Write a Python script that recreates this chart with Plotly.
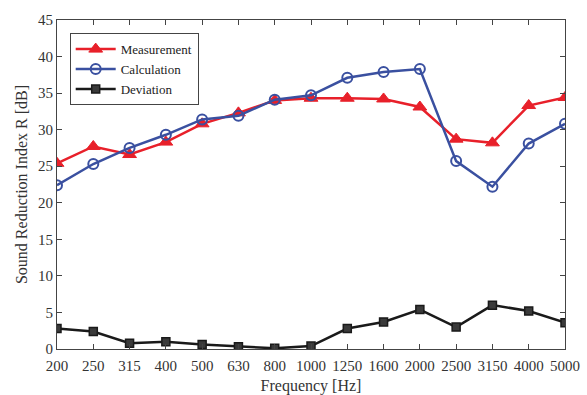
import plotly.graph_objects as go

freqs = ["200", "250", "315", "400", "500", "630", "800", "1000", "1250", "1600", "2000", "2500", "3150", "4000", "5000"]
measurement = [25.4, 27.7, 26.6, 28.3, 30.8, 32.3, 34.0, 34.3, 34.3, 34.2, 33.1, 28.7, 28.2, 33.3, 34.4]
calculation = [22.4, 25.3, 27.5, 29.3, 31.4, 31.9, 34.1, 34.7, 37.1, 37.9, 38.3, 25.7, 22.2, 28.1, 30.8]
deviation = [2.8, 2.4, 0.8, 1.0, 0.6, 0.3, 0.1, 0.4, 2.8, 3.7, 5.4, 3.0, 6.0, 5.2, 3.6]

fig = go.Figure()
fig.add_trace(go.Scatter(x=freqs, y=measurement, name="Measurement", mode="lines+markers",
                         line=dict(color="#e8202a", width=2.5),
                         marker=dict(symbol="triangle-up", size=12, color="#e8202a",
                                     line=dict(color="#e8202a", width=1))))
fig.add_trace(go.Scatter(x=freqs, y=calculation, name="Calculation", mode="lines+markers",
                         line=dict(color="#3a50a0", width=2.5),
                         marker=dict(symbol="circle-open", size=10, color="#3a50a0",
                                     line=dict(color="#3a50a0", width=2))))
fig.add_trace(go.Scatter(x=freqs, y=deviation, name="Deviation", mode="lines+markers",
                         line=dict(color="#1a1a1a", width=2.5),
                         marker=dict(symbol="square", size=8, color="#3a3a3a",
                                     line=dict(color="#1a1a1a", width=1.5))))

font_family = "Liberation Serif, Times New Roman, serif"
fig.update_layout(
    width=587, height=395,
    margin=dict(l=57, r=22, t=17, b=46),
    plot_bgcolor="white", paper_bgcolor="white",
    font=dict(family=font_family, size=15, color="#333333"),
    showlegend=True,
    legend=dict(x=0.025, y=0.96, xanchor="left", yanchor="top",
                bgcolor="white", bordercolor="#444444", borderwidth=1,
                font=dict(family=font_family, size=13, color="#222222"),
                tracegroupgap=0, itemwidth=40),
)
fig.update_xaxes(type="category", range=[0, 14], showline=True, linecolor="#444444", linewidth=1,
                 mirror="ticks", ticks="inside", ticklen=5, tickcolor="#444444",
                 showgrid=False, zeroline=False, ticklabelstandoff=3, automargin=False,
                 tickfont=dict(family=font_family, size=15, color="#333333"),
                 title=dict(text="Frequency [Hz]",
                            font=dict(family=font_family, size=16, color="#333333")))
fig.update_yaxes(range=[0, 45], dtick=5, showline=True, linecolor="#444444", linewidth=1,
                 mirror="ticks", ticks="inside", ticklen=5, tickcolor="#444444",
                 showgrid=False, zeroline=False, automargin=True,
                 tickfont=dict(family=font_family, size=15, color="#333333"),
                 title=dict(text="Sound Reduction Index R [dB]", standoff=6,
                            font=dict(family=font_family, size=16, color="#333333")))

fig.write_html("out.html")
